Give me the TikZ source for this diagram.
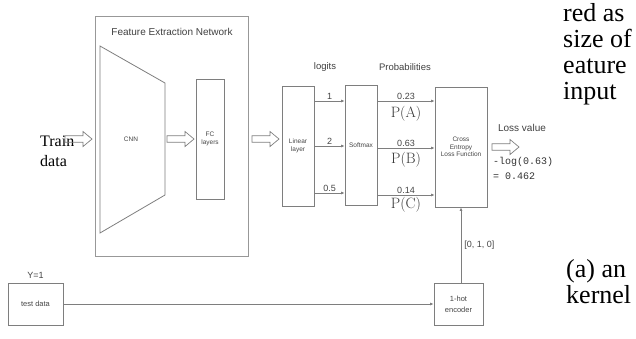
\documentclass[tikz,border=0pt]{standalone}
\usepackage{fontspec}
\setsansfont{Liberation Sans}
\setmonofont{Liberation Mono}
\newfontfamily\timesf{Liberation Serif}
\usetikzlibrary{arrows.meta}
\definecolor{ln}{HTML}{7E7E7E}
\definecolor{tx}{HTML}{444444}
\tikzset{
  boxn/.style={draw=ln, line width=0.8pt, inner sep=0pt, font=\sffamily\fontsize{6.5}{7.5}\selectfont, text=tx, align=center},
  arr/.style={draw=ln, line width=0.7pt, -{Latex[length=3.5pt,width=3pt]}},
  hollowarrow/.pic={\draw[draw=ln, line width=0.7pt, line join=miter] (0,-3.2) -- (18,-3.2) -- (18,-7.5) -- (27,0) -- (18,7.5) -- (18,3.2) -- (0,3.2) -- cycle;},
  lab/.style={font=\sffamily\fontsize{9}{10}\selectfont, text=tx, inner sep=1pt},
  plab/.style={font=\fontsize{15}{16}\selectfont, text=tx!80!black, inner sep=0pt},
  side/.style={font=\timesf\fontsize{26}{28}\selectfont, anchor=base west, inner sep=0pt},
}
\begin{document}
\begin{tikzpicture}[x=1pt,y=-1pt]
\useasboundingbox (0,0) rectangle (636,338);
% feature extraction network
\node[draw=ln!80, line width=0.8pt, minimum width=153pt, minimum height=240pt, inner sep=0pt] (fen) at (171.5,136) {};
\node[font=\sffamily\fontsize{10}{12}\selectfont, text=black!75] (fentitle) at (172,32) {Feature Extraction Network};
\draw[draw=ln, line width=0.8pt] (100,46) -- (165,83) -- (165,195) -- (100,233) -- cycle;
\node[font=\sffamily\fontsize{6.5}{7.5}\selectfont, text=tx] (cnn) at (131,139) {CNN};
\node[boxn, minimum width=28pt, minimum height=120pt] (fc) at (210,139) {FC\\layers};
\node[boxn, minimum width=32pt, minimum height=120pt] (lin) at (298,146) {Linear\\layer};
\node[boxn, minimum width=32pt, minimum height=120pt] (smx) at (361,145) {Softmax};
\node[boxn, minimum width=52pt, minimum height=120pt] (ce) at (461,147) {Cross\\Entropy\\Loss Function};
\node[boxn, minimum width=49pt, minimum height=42pt, font=\sffamily\fontsize{7.5}{11}\selectfont] (hot) at (458.5,304) {1-hot\\encoder};
\node[boxn, minimum width=55pt, minimum height=42pt, font=\sffamily\fontsize{7.5}{9}\selectfont] (test) at (35.5,304) {test data};
% train data
\node[font=\timesf\fontsize{16}{20}\selectfont, align=left, anchor=north west, inner sep=0pt] (train) at (40,136) {Train\\data};
% hollow arrows
\pic at (65,139) {hollowarrow};
\pic at (167,139) {hollowarrow};
\pic at (252,139) {hollowarrow};
\pic at (492,147) {hollowarrow};
% headings
\node[font=\sffamily\fontsize{9.5}{11}\selectfont, text=black!75] (logits) at (325,67) {logits};
\node[font=\sffamily\fontsize{9.5}{11}\selectfont, text=black!75] (prob) at (405,67) {Probabilities};
% logits arrows
\draw[arr] (lin.east|-0,101) -- node[lab, above] {1} (smx.west|-0,101);
\draw[arr] (lin.east|-0,146) -- node[lab, above] {2} (smx.west|-0,146);
\draw[arr] (lin.east|-0,193) -- node[lab, above] {0.5} (smx.west|-0,193);
% probability arrows
\draw[arr] (smx.east|-0,101) -- node[lab, above] {0.23} node[plab, below=5pt] {P(A)} (ce.west|-0,101);
\draw[arr] (smx.east|-0,148) -- node[lab, above] {0.63} node[plab, below=4pt] {P(B)} (ce.west|-0,148);
\draw[arr] (smx.east|-0,195) -- node[lab, above] {0.14} node[plab, below=2pt] {P(C)} (ce.west|-0,195);
% loss
\node[font=\sffamily\fontsize{10}{12}\selectfont, text=black!75] (loss) at (522,128) {Loss value};
\node[font=\ttfamily\fontsize{10}{15}\selectfont, text=black!80, align=left, anchor=north west, inner sep=0pt] (lossv) at (493,157) {-log(0.63)\\= 0.462};
% one hot
\draw[arr] (hot.north-|ce.south) -- node[lab, right=2pt] {[0, 1, 0]} (ce.south);
\draw[arr] (test.east) -- (hot.west);
\node[lab, above=3pt] (y1) at (test.north) {Y=1};
% side text from page
\node[side] (s1) at (563,21) {red as};
\node[side] (s2) at (563,47) {size of};
\node[side] (s3) at (563,73) {eature};
\node[side] (s4) at (563,99) {input};
\node[side] (s5) at (566,277) {(a) an};
\node[side] (s6) at (566,303) {kernel};
\end{tikzpicture}
\end{document}
